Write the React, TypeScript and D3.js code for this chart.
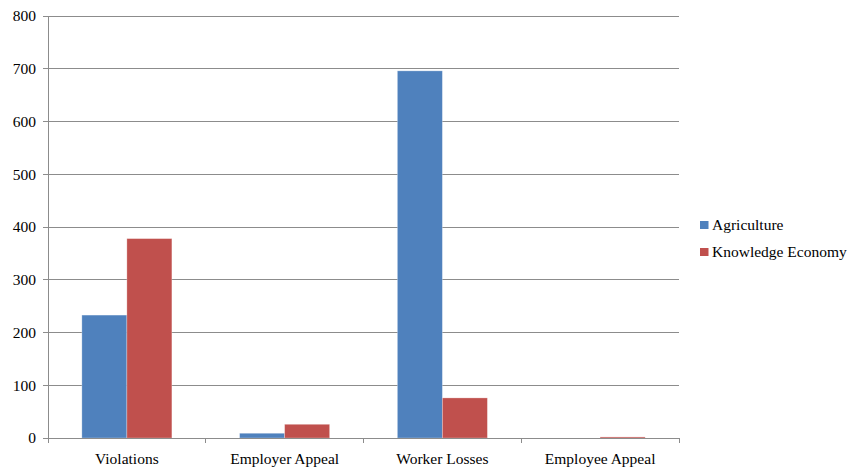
import React from "react";
import * as d3 from "d3";

const categories = ["Violations", "Employer Appeal", "Worker Losses", "Employee Appeal"];
const seriesNames = ["Agriculture", "Knowledge Economy"];
const agriculture = [233, 9, 696, 0];
const knowledge = [378, 26, 76, 2];
const yTicks = [0, 100, 200, 300, 400, 500, 600, 700, 800];
const colors = ["#4F81BD", "#C0504D"];

export default function App() {
  const W = 853, H = 471;
  const left = 48, right = 679, top = 16, bottom = 438;
  const font = "'Liberation Serif', 'Times New Roman', Times, Tinos, 'DejaVu Serif', 'Noto Serif', FreeSerif, serif";
  const fs = 15.5;
  const x = d3.scaleBand<string>().domain(categories).range([left, right]).paddingInner(0).paddingOuter(0);
  const y = d3.scaleLinear().domain([0, 800]).range([bottom, top]);
  const bw = x.bandwidth();
  const barW = bw * 0.2853;
  const series = [agriculture, knowledge];
  return (
    <svg width={W} height={H} style={{ position: "absolute", left: 0, top: 0, fontFamily: font }}>
      <rect x={0} y={0} width={W} height={H} fill="#fff" />
      {yTicks.map((t) => (
        <g key={t}>
          <line x1={left - 5} x2={right} y1={y(t)} y2={y(t)} stroke="#8c8c8c" strokeWidth={1} shapeRendering="crispEdges" />
          <text x={36} y={y(t)} dy="0.35em" textAnchor="end" fontSize={fs} fill="#000">{t}</text>
        </g>
      ))}
      <line x1={left} x2={left} y1={top} y2={bottom} stroke="#8c8c8c" shapeRendering="crispEdges" />
      {categories.map((c, i) => {
        const cx = (x(c) as number) + bw / 2;
        return (
          <g key={c}>
            {series.map((s, j) => {
              const bx = cx - barW + j * barW;
              const v = s[i];
              return (
                <rect key={j} x={bx} y={y(v)} width={barW} height={y(0) - y(v)} fill={colors[j]} stroke={v > 0 ? "rgba(255,255,255,0.35)" : "none"} strokeWidth={0.8} />
              );
            })}
            <text x={cx} y={459} dy="0.35em" textAnchor="middle" fontSize={fs} fill="#000">{c}</text>
          </g>
        );
      })}
      <line x1={left} x2={right} y1={bottom} y2={bottom} stroke="#8c8c8c" shapeRendering="crispEdges" />
      {d3.range(categories.length + 1).map((i) => {
        const tx = left + i * bw;
        return <line key={i} x1={tx} x2={tx} y1={bottom} y2={bottom + 5} stroke="#8c8c8c" shapeRendering="crispEdges" />;
      })}
      {seriesNames.map((n, j) => (
        <g key={n}>
          <rect x={700} y={221 + j * 27} width={8.5} height={8} fill={colors[j]} />
          <text x={712} y={225 + j * 27} dy="0.35em" fontSize={fs} fill="#000">{n}</text>
        </g>
      ))}
    </svg>
  );
}
